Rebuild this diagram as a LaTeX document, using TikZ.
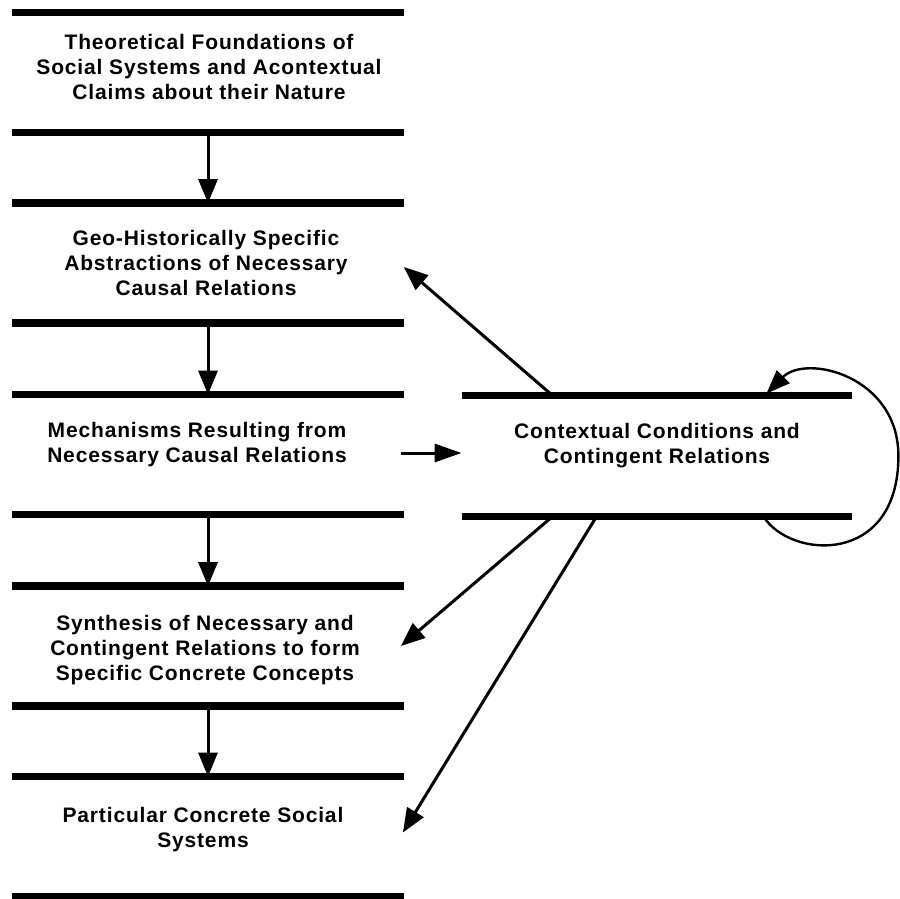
\documentclass[tikz,border=0pt]{standalone}
\usepackage{fontspec}
\newfontfamily\stagefont{Liberation Sans}[LetterSpace=4]
\usetikzlibrary{arrows.meta}
\begin{document}
\begin{tikzpicture}[x=0.5pt,y=-0.5pt,line join=round,
		stage/.style={minimum width=195.5pt,minimum height=59.5pt,inner sep=0pt},
		stagetext/.style={font=\stagefont\bfseries\fontsize{10.5pt}{12.5pt}\selectfont,align=center,inner sep=0pt,anchor=north},
		bar/.style={line width=3.8pt},
		flow/.style={line width=1.5pt,-{Triangle[length=12pt,width=9.5pt]}}]
	\useasboundingbox (0,0) rectangle (900,899);
	%% Các khối
	\node[stage] (theory) at (208,72.5) {};
	\node[stage] (geo) at (208,263) {};
	\node[stage] (mech) at (208,454.5) {};
	\node[stage] (synth) at (208,646) {};
	\node[stage] (concrete) at (208,836.5) {};
	\node[stage,minimum width=195pt,minimum height=60pt] (context) at (657,456) {};
	\foreach \s in {theory,geo,mech,synth,concrete,context}
		\draw[bar] (\s.north west) -- (\s.north east) (\s.south west) -- (\s.south east);
	%% Chữ
	\node[stagetext] (theory-txt) at (209,34) {Theoretical Foundations of\\Social Systems and Acontextual\\Claims about their Nature};
	\node[stagetext] (geo-txt) at (206,230) {Geo-Historically Specific\\Abstractions of Necessary\\Causal Relations};
	\node[stagetext] (mech-txt) at (197,422) {Mechanisms Resulting from\\Necessary Causal Relations};
	\node[stagetext] (synth-txt) at (205,615) {Synthesis of Necessary and\\Contingent Relations to form\\Specific Concrete Concepts};
	\node[stagetext] (concrete-txt) at (203,807) {Particular Concrete Social\\Systems};
	\node[stagetext] (context-txt) at (657,423) {Contextual Conditions and\\Contingent Relations};
	%% Mũi tên dọc
	\draw[flow] (theory.south) -- (geo.north);
	\draw[flow] (geo.south) -- (mech.north);
	\draw[flow] (mech.south) -- (synth.north);
	\draw[flow] (synth.south) -- (concrete.north);
	%% Mũi tên từ khối bên phải
	\draw[flow,-{Triangle[length=13.5pt,width=9pt]}] ([xshift=-1.5pt,yshift=0.75pt]mech.east) -- ([yshift=0.75pt]mech.east -| context.west);
	\draw[flow] ([xshift=45.5pt]context.north west) -- ([yshift=-2pt]geo.east);
	\draw[flow] ([xshift=45.5pt]context.south west) -- ([xshift=-1.5pt]synth.east);
	\draw[flow] ([xshift=67.5pt]context.south west) -- ([xshift=-0.5pt,yshift=2pt]concrete.east);
	%% Vòng lặp
	\coordinate (loop-start) at ([xshift=-44.5pt]context.south east);
	\coordinate (loop-mid) at ([xshift=23pt]context.east);
	\coordinate (loop-end) at ([xshift=-43pt,yshift=1pt]context.north east);
	\draw[line width=1.2pt,-{Triangle[length=12pt,width=9pt]}] (loop-start) .. controls +(27,43) and +(0,110) .. (loop-mid)
		.. controls +(0,-80) and +(40,-40) .. (loop-end);
\end{tikzpicture}
\end{document}
